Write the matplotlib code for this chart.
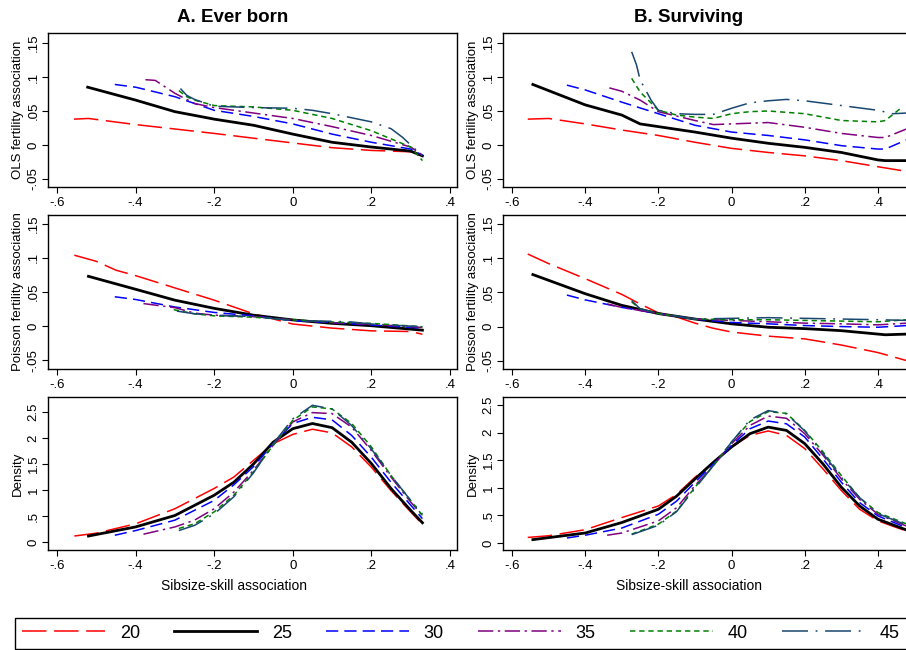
import matplotlib
matplotlib.use('Agg')
import matplotlib.pyplot as plt

plt.rcParams['font.family'] = ['Liberation Sans', 'DejaVu Sans']

ages = ['20', '25', '30', '35', '40', '45']
colors = ['#ff0000', '#000000', '#0000ff', '#800080', '#008000', '#1a476f']
widths = [1.1, 2.0, 1.1, 1.1, 1.1, 1.1]
dashes = [(16, 5), None, (8, 4), (10, 3, 1.5, 3), (3.5, 2.5), (17, 5, 1.2, 5)]

# OLS, ever born
ols_born = {
    '20': ([-0.557, -0.52, -0.4, -0.2, 0, 0.1, 0.2, 0.3, 0.33],
           [0.038, 0.039, 0.030, 0.017, 0.003, -0.004, -0.008, -0.010, -0.013]),
    '25': ([-0.522, -0.4, -0.3, -0.2, -0.1, 0, 0.1, 0.2, 0.3, 0.33],
           [0.085, 0.066, 0.049, 0.038, 0.029, 0.016, 0.004, -0.003, -0.009, -0.016]),
    '30': ([-0.453, -0.4, -0.3, -0.2, -0.1, 0, 0.1, 0.2, 0.3, 0.33],
           [0.089, 0.085, 0.071, 0.051, 0.042, 0.031, 0.016, 0.004, -0.006, -0.015]),
    '35': ([-0.375, -0.35, -0.3, -0.28, -0.25, -0.2, -0.1, 0, 0.1, 0.2, 0.3, 0.33],
           [0.096, 0.095, 0.076, 0.070, 0.061, 0.055, 0.047, 0.039, 0.027, 0.014, -0.003, -0.015]),
    '40': ([-0.29, -0.27, -0.25, -0.2, -0.1, 0, 0.1, 0.2, 0.3, 0.33],
           [0.080, 0.071, 0.066, 0.058, 0.056, 0.051, 0.039, 0.021, -0.003, -0.023]),
    '45': ([-0.286, -0.27, -0.25, -0.2, -0.1, 0, 0.05, 0.1, 0.2, 0.25, 0.28, 0.3, 0.33],
           [0.083, 0.073, 0.067, 0.057, 0.055, 0.054, 0.051, 0.046, 0.034, 0.024, 0.011, 0.0, -0.016]),
}

# OLS, surviving
ols_surv = {
    '20': ([-0.557, -0.5, -0.4, -0.3, -0.2, -0.1, 0, 0.1, 0.2, 0.3, 0.4, 0.48],
           [0.038, 0.039, 0.031, 0.022, 0.014, 0.004, -0.005, -0.011, -0.016, -0.023, -0.032, -0.039]),
    '25': ([-0.543, -0.4, -0.3, -0.25, -0.2, -0.1, 0, 0.1, 0.2, 0.3, 0.4, 0.42, 0.48],
           [0.089, 0.059, 0.044, 0.031, 0.027, 0.019, 0.010, 0.0025, -0.0035, -0.011, -0.022, -0.023, -0.023]),
    '30': ([-0.45, -0.4, -0.3, -0.2, -0.1, 0, 0.1, 0.2, 0.3, 0.4, 0.42, 0.48],
           [0.088, 0.081, 0.063, 0.046, 0.029, 0.019, 0.014, 0.0075, -0.001, -0.006, -0.006, 0.008]),
    '35': ([-0.334, -0.3, -0.25, -0.2, -0.1, -0.05, 0, 0.1, 0.2, 0.3, 0.4, 0.42, 0.48],
           [0.084, 0.079, 0.066, 0.049, 0.036, 0.030, 0.031, 0.033, 0.026, 0.017, 0.011, 0.011, 0.024]),
    '40': ([-0.273, -0.25, -0.2, -0.15, -0.1, -0.05, 0, 0.05, 0.1, 0.2, 0.3, 0.4, 0.42, 0.46],
           [0.098, 0.078, 0.051, 0.044, 0.041, 0.039, 0.046, 0.049, 0.050, 0.046, 0.036, 0.034, 0.036, 0.053]),
    '45': ([-0.273, -0.26, -0.25, -0.22, -0.2, -0.15, -0.1, -0.05, 0, 0.05, 0.1, 0.15, 0.2, 0.3, 0.4, 0.44, 0.48],
           [0.137, 0.118, 0.096, 0.066, 0.051, 0.046, 0.045, 0.045, 0.054, 0.062, 0.065, 0.067, 0.065, 0.058, 0.051, 0.046, 0.047]),
}

# Poisson, ever born
poi_born = {
    '20': ([-0.556, -0.5, -0.45, -0.4, -0.3, -0.2, -0.1, 0, 0.1, 0.2, 0.3, 0.33],
           [0.104, 0.095, 0.082, 0.074, 0.056, 0.038, 0.018, 0.003, -0.003, -0.007, -0.008, -0.012]),
    '25': ([-0.52, -0.4, -0.3, -0.2, -0.1, 0, 0.1, 0.2, 0.33],
           [0.073, 0.054, 0.038, 0.026, 0.016, 0.009, 0.004, 0.0005, -0.006]),
    '30': ([-0.453, -0.4, -0.3, -0.2, -0.1, 0, 0.1, 0.2, 0.33],
           [0.043, 0.039, 0.028, 0.020, 0.015, 0.008, 0.005, 0.0015, -0.003]),
    '35': ([-0.38, -0.3, -0.25, -0.2, -0.1, 0, 0.1, 0.2, 0.33],
           [0.033, 0.027, 0.019, 0.016, 0.014, 0.009, 0.005, 0.0025, -0.002]),
    '40': ([-0.303, -0.25, -0.2, -0.1, 0, 0.1, 0.2, 0.33],
           [0.024, 0.018, 0.015, 0.013, 0.009, 0.006, 0.004, -0.001]),
    '45': ([-0.295, -0.25, -0.2, -0.1, 0, 0.1, 0.15, 0.2, 0.33],
           [0.022, 0.018, 0.016, 0.014, 0.008, 0.007, 0.006, 0.003, -0.001]),
}

# Poisson, surviving
poi_surv = {
    '20': ([-0.557, -0.5, -0.4, -0.3, -0.25, -0.2, -0.15, -0.1, -0.05, 0, 0.1, 0.2, 0.3, 0.4, 0.48],
           [0.106, 0.092, 0.070, 0.047, 0.033, 0.020, 0.014, 0.005, -0.0025, -0.008, -0.014, -0.018, -0.027, -0.038, -0.05]),
    '25': ([-0.543, -0.4, -0.3, -0.2, -0.1, 0, 0.1, 0.2, 0.3, 0.4, 0.42, 0.48],
           [0.076, 0.048, 0.031, 0.019, 0.011, 0.004, -0.001, -0.003, -0.006, -0.011, -0.012, -0.011]),
    '30': ([-0.45, -0.4, -0.3, -0.2, -0.1, 0, 0.1, 0.2, 0.3, 0.4, 0.48],
           [0.046, 0.039, 0.028, 0.019, 0.011, 0.006, 0.004, 0.0015, 0.0, -0.001, 0.0015]),
    '35': ([-0.34, -0.3, -0.2, -0.1, 0, 0.1, 0.2, 0.3, 0.4, 0.48],
           [0.033, 0.028, 0.019, 0.011, 0.009, 0.007, 0.005, 0.004, 0.0025, 0.005]),
    '40': ([-0.273, -0.25, -0.2, -0.1, 0, 0.1, 0.2, 0.3, 0.4, 0.48],
           [0.036, 0.026, 0.019, 0.011, 0.010, 0.010, 0.009, 0.008, 0.007, 0.010]),
    '45': ([-0.273, -0.25, -0.2, -0.1, 0, 0.1, 0.2, 0.3, 0.4, 0.48],
           [0.038, 0.026, 0.019, 0.011, 0.012, 0.013, 0.012, 0.011, 0.010, 0.009]),
}

# density, ever born
dens_born = {
    '20': ([-0.556, -0.5, -0.4, -0.3, -0.2, -0.15, -0.1, -0.05, 0, 0.05, 0.1, 0.15, 0.2, 0.25, 0.3, 0.33],
           [0.115, 0.17, 0.35, 0.64, 1.03, 1.25, 1.57, 1.89, 2.07, 2.17, 2.10, 1.83, 1.44, 0.99, 0.58, 0.34]),
    '25': ([-0.52, -0.4, -0.3, -0.2, -0.15, -0.1, -0.05, 0, 0.05, 0.1, 0.15, 0.2, 0.25, 0.3, 0.33],
           [0.115, 0.29, 0.51, 0.90, 1.15, 1.50, 1.92, 2.18, 2.28, 2.20, 1.92, 1.51, 1.03, 0.61, 0.37]),
    '30': ([-0.453, -0.4, -0.3, -0.2, -0.15, -0.1, -0.05, 0, 0.05, 0.1, 0.15, 0.2, 0.25, 0.3, 0.33],
           [0.13, 0.22, 0.42, 0.80, 1.10, 1.45, 1.89, 2.28, 2.40, 2.35, 2.05, 1.63, 1.15, 0.71, 0.45]),
    '35': ([-0.38, -0.3, -0.25, -0.2, -0.15, -0.1, -0.05, 0, 0.05, 0.1, 0.15, 0.2, 0.25, 0.3, 0.33],
           [0.15, 0.29, 0.42, 0.64, 0.96, 1.38, 1.86, 2.31, 2.49, 2.47, 2.21, 1.76, 1.25, 0.77, 0.51]),
    '40': ([-0.29, -0.25, -0.2, -0.15, -0.1, -0.05, 0, 0.05, 0.1, 0.15, 0.2, 0.25, 0.3, 0.33],
           [0.26, 0.35, 0.58, 0.90, 1.35, 1.86, 2.34, 2.60, 2.56, 2.28, 1.83, 1.28, 0.80, 0.51]),
    '45': ([-0.29, -0.25, -0.2, -0.15, -0.1, -0.05, 0, 0.05, 0.1, 0.15, 0.2, 0.25, 0.3, 0.33],
           [0.22, 0.32, 0.54, 0.87, 1.33, 1.89, 2.37, 2.63, 2.56, 2.24, 1.79, 1.28, 0.80, 0.54]),
}

# density, surviving
dens_surv = {
    '20': ([-0.557, -0.5, -0.4, -0.3, -0.2, -0.15, -0.1, -0.05, 0, 0.05, 0.1, 0.15, 0.2, 0.25, 0.3, 0.35, 0.4, 0.48],
           [0.10, 0.13, 0.24, 0.46, 0.67, 0.88, 1.19, 1.46, 1.74, 1.95, 2.03, 1.95, 1.71, 1.34, 0.95, 0.61, 0.40, 0.21]),
    '25': ([-0.543, -0.4, -0.3, -0.2, -0.15, -0.1, -0.05, 0, 0.05, 0.1, 0.15, 0.2, 0.25, 0.3, 0.35, 0.4, 0.48],
           [0.06, 0.18, 0.37, 0.61, 0.85, 1.16, 1.46, 1.74, 1.98, 2.10, 2.04, 1.80, 1.43, 1.01, 0.67, 0.43, 0.23]),
    '30': ([-0.45, -0.4, -0.3, -0.2, -0.15, -0.1, -0.05, 0, 0.05, 0.1, 0.15, 0.2, 0.25, 0.3, 0.35, 0.4, 0.48],
           [0.09, 0.14, 0.27, 0.52, 0.76, 1.10, 1.43, 1.77, 2.07, 2.21, 2.16, 1.92, 1.52, 1.10, 0.73, 0.49, 0.27]),
    '35': ([-0.34, -0.3, -0.2, -0.15, -0.1, -0.05, 0, 0.05, 0.1, 0.15, 0.2, 0.25, 0.3, 0.35, 0.4, 0.48],
           [0.14, 0.18, 0.40, 0.64, 1.04, 1.40, 1.80, 2.13, 2.30, 2.26, 1.98, 1.59, 1.16, 0.79, 0.52, 0.30]),
    '40': ([-0.273, -0.2, -0.15, -0.1, -0.05, 0, 0.05, 0.1, 0.15, 0.2, 0.25, 0.3, 0.35, 0.4, 0.48],
           [0.16, 0.34, 0.58, 1.01, 1.40, 1.83, 2.20, 2.38, 2.35, 2.04, 1.65, 1.22, 0.82, 0.55, 0.34]),
    '45': ([-0.273, -0.2, -0.15, -0.1, -0.05, 0, 0.05, 0.1, 0.15, 0.2, 0.25, 0.3, 0.35, 0.4, 0.48],
           [0.15, 0.32, 0.57, 0.99, 1.40, 1.83, 2.23, 2.40, 2.34, 2.03, 1.62, 1.19, 0.82, 0.53, 0.32]),
}

xticks = [-0.6, -0.4, -0.2, 0, 0.2, 0.4]
xticklabels = ['-.6', '-.4', '-.2', '0', '.2', '.4']
assoc_ticks = [-0.05, 0, 0.05, 0.1, 0.15]
assoc_labels = ['-.05', '0', '.05', '.1', '.15']
dens_ticks = [0, 0.5, 1, 1.5, 2, 2.5]
dens_labels = ['0', '.5', '1', '1.5', '2', '2.5']

W, H = 906, 650
fig = plt.figure(figsize=(W / 100, H / 100), dpi=100)


def px_axes(left, top, right, bottom):
    return fig.add_axes([left / W, 1 - bottom / H, (right - left) / W, (bottom - top) / H])


# pixel boxes of the six panels (right column runs past the image edge)
rows = [(33, 187), (215, 369), (397, 550)]
cols = [(48, 457), (503, 912)]
xlims = [(-0.623, 0.418), (-0.6246, 0.493)]
ylims = [[(-0.0618, 0.1647), (-0.0618, 0.1647)],
         [(-0.063, 0.163), (-0.062, 0.163)],
         [(-0.154, 2.79), (-0.128, 2.646)]]
panels = [[ols_born, ols_surv], [poi_born, poi_surv], [dens_born, dens_surv]]
ylabels = ['OLS fertility association', 'Poisson fertility association', 'Density']

legend_lines = []
for r, (top, bottom) in enumerate(rows):
    for c, (left, right) in enumerate(cols):
        ax = px_axes(left, top, right, bottom)
        data = panels[r][c]
        for i, a in enumerate(ages):
            xs, ys = data[a]
            ln, = ax.plot(xs, ys, color=colors[i], lw=widths[i], label=a)
            if dashes[i] is not None:
                ln.set_dashes(dashes[i])
            if r == 0 and c == 0:
                legend_lines.append(ln)
        ax.set_xlim(*xlims[c])
        ax.set_ylim(*ylims[r][c])
        ax.set_xticks(xticks)
        ax.set_xticklabels(xticklabels, fontsize=9.5)
        if r < 2:
            ax.set_yticks(assoc_ticks)
            ax.set_yticklabels(assoc_labels, fontsize=9.5)
        else:
            ax.set_yticks(dens_ticks)
            ax.set_yticklabels(dens_labels, fontsize=9.5)
            ax.set_xlabel('Sibsize-skill association', fontsize=10)
            ax.xaxis.set_label_coords(0.455, -0.19)
        ax.tick_params(axis='both', direction='out', length=4, width=0.8, pad=3)
        ax.tick_params(axis='y', labelrotation=90, pad=2)
        for t in ax.get_yticklabels():
            t.set_va('center')
        ax.set_ylabel(ylabels[r], fontsize=9.5)
        ax.yaxis.set_label_coords(-24 / 409, 0.5)
        for s in ax.spines.values():
            s.set_linewidth(1.0)

fig.text(233 / W, 1 - 18 / H, 'A. Ever born', ha='center', va='center',
         fontsize=13.5, fontweight='bold')
fig.text(689 / W, 1 - 18 / H, 'B. Surviving', ha='center', va='center',
         fontsize=13.5, fontweight='bold')

leg = fig.legend(handles=legend_lines, labels=ages, ncol=6, mode='expand',
                 bbox_to_anchor=(15 / W, 1 / H, 892 / W, 42 / H), loc='lower left',
                 borderaxespad=0, fontsize=13, handlelength=4.6, handletextpad=0.8,
                 fancybox=False, edgecolor='black', framealpha=1)
leg.get_frame().set_linewidth(1.0)

fig.savefig('out.png', dpi=100)
